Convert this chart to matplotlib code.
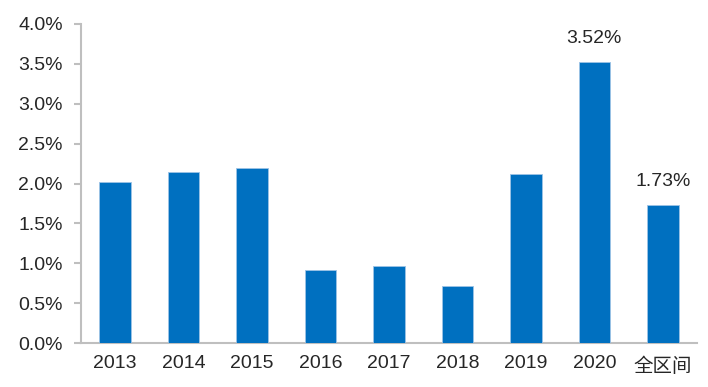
import matplotlib
matplotlib.use("Agg")
import matplotlib.pyplot as plt
from matplotlib.ticker import FuncFormatter

plt.rcParams['font.family'] = ['Liberation Sans', 'Noto Sans CJK SC', 'DejaVu Sans']

categories = ['2013', '2014', '2015', '2016', '2017', '2018', '2019', '2020', '全区间']
values = [2.02, 2.15, 2.19, 0.92, 0.96, 0.71, 2.12, 3.52, 1.73]
labeled = {'2020': '3.52%', '全区间': '1.73%'}
yticks = [0.0, 0.5, 1.0, 1.5, 2.0, 2.5, 3.0, 3.5, 4.0]

fig = plt.figure(figsize=(7.08, 3.87), dpi=100)
ax = fig.add_axes([81/708, 1 - 343/387, 616/708, (343 - 24)/387])

x = range(len(categories))
ax.bar(x, values, width=0.46, color='#0070C0', edgecolor='#9DC3E6', linewidth=0.6, zorder=3)

for i, (c, v) in enumerate(zip(categories, values)):
    if c in labeled:
        ax.annotate(labeled[c], xy=(i, v), xytext=(0, 11), textcoords='offset points',
                    ha='center', va='bottom', fontsize=14, color='#262626')

ax.set_xlim(-0.5, len(categories) - 0.5)
ax.set_ylim(0, 4.0)
ax.set_yticks(yticks)
ax.yaxis.set_major_formatter(FuncFormatter(lambda v, p: f'{v:.1f}%'))
ax.set_xticks(list(x))
ax.set_xticklabels(categories)

for lab in ax.get_xticklabels():
    if lab.get_text() == '全区间':
        lab.set_family(['Noto Sans CJK SC', 'DejaVu Sans'])
        lab.set_fontsize(14)

for s in ['top', 'right']:
    ax.spines[s].set_visible(False)
for s in ['left', 'bottom']:
    ax.spines[s].set_color('#BFBFBF')
    ax.spines[s].set_linewidth(1.5)

ax.tick_params(axis='y', length=5, width=1.5, color='#BFBFBF', labelsize=14, labelcolor='#262626', pad=8)
ax.tick_params(axis='x', length=0, labelsize=14, labelcolor='#262626', pad=9)

fig.savefig('out.png', dpi=100)
